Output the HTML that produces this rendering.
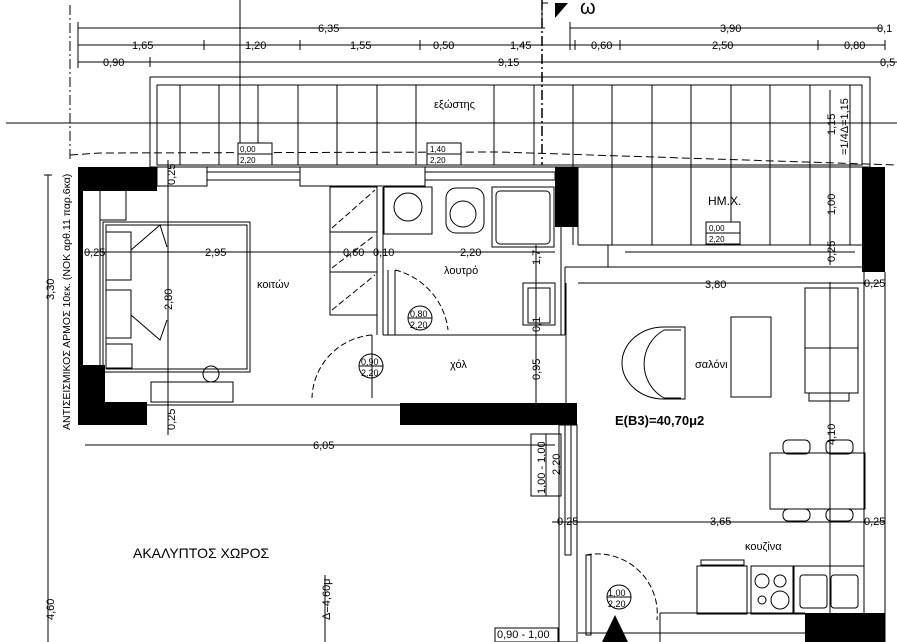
<!DOCTYPE html>
<html><head><meta charset="utf-8"><style>
html,body{margin:0;padding:0;background:#fff;}
svg{display:block;font-family:"Liberation Sans",sans-serif;}
text{fill:#000;}
</style></head><body>
<svg width="897" height="642" viewBox="0 0 897 642" xmlns="http://www.w3.org/2000/svg">
<g stroke="#000" stroke-width="1" fill="none">
<line x1="240" y1="0" x2="240" y2="150"/>
<line x1="6" y1="123" x2="897" y2="123"/>
<line x1="70" y1="5" x2="70" y2="160" stroke-dasharray="10,3,2,3"/>
<line x1="542" y1="0" x2="542" y2="165" stroke-dasharray="10,3,2,3" stroke-width="1.5"/>
<polyline points="542,22 542,3 548,3"/>
<line x1="78" y1="28" x2="545" y2="28"/><line x1="570" y1="28" x2="882" y2="28"/>
<line x1="78" y1="45" x2="885" y2="45"/>
<line x1="78" y1="62" x2="897" y2="62"/>
<g stroke-width="1">
<line x1="78" y1="22" x2="78" y2="68"/><line x1="570" y1="22" x2="570" y2="50"/>
<line x1="204" y1="40" x2="204" y2="50"/><line x1="300" y1="40" x2="300" y2="50"/>
<line x1="420" y1="40" x2="420" y2="50"/><line x1="575" y1="40" x2="575" y2="50"/>
<line x1="620" y1="40" x2="620" y2="50"/><line x1="818" y1="40" x2="818" y2="50"/>
<line x1="885" y1="40" x2="885" y2="50"/><line x1="150" y1="57" x2="150" y2="67"/>
</g>
<rect x="150" y="77" width="720" height="90"/>
<rect x="157" y="85" width="705" height="80"/>
<g>
<line x1="180" y1="85" x2="180" y2="165"/><line x1="219" y1="85" x2="219" y2="165"/>
<line x1="258" y1="85" x2="258" y2="165"/><line x1="298" y1="85" x2="298" y2="165"/>
<line x1="337" y1="85" x2="337" y2="165"/><line x1="377" y1="85" x2="377" y2="165"/>
<line x1="416" y1="85" x2="416" y2="165"/><line x1="494" y1="85" x2="494" y2="165"/>
<line x1="534" y1="85" x2="534" y2="165"/><line x1="573" y1="85" x2="573" y2="245"/>
<line x1="612" y1="85" x2="612" y2="245"/><line x1="652" y1="85" x2="652" y2="245"/>
<line x1="691" y1="85" x2="691" y2="245"/><line x1="731" y1="85" x2="731" y2="245"/>
<line x1="770" y1="85" x2="770" y2="245"/><line x1="810" y1="85" x2="810" y2="245"/>
<line x1="850" y1="85" x2="850" y2="245"/>
<line x1="578" y1="245" x2="862" y2="245"/>
<line x1="578" y1="167" x2="578" y2="245"/>
</g>
<polyline points="70,155 100,153 500,152 897,165" stroke-dasharray="8,4"/>
<rect x="238" y="143" width="34" height="22" fill="#fff"/><line x1="238" y1="154" x2="272" y2="154"/>
<rect x="427" y="143" width="34" height="22" fill="#fff"/><line x1="427" y1="154" x2="461" y2="154"/>
<rect x="706" y="222" width="34" height="22" fill="#fff"/><line x1="706" y1="233" x2="740" y2="233"/>
<rect x="157" y="167" width="50" height="19"/><rect x="207" y="172" width="93" height="8"/>
<rect x="300" y="167" width="125" height="19"/><rect x="425" y="172" width="130" height="8"/>
<rect x="608" y="245" width="260" height="22"/><line x1="625" y1="252" x2="855" y2="252"/>
<line x1="82" y1="190" x2="82" y2="410"/><line x1="100" y1="190" x2="100" y2="365"/>
<rect x="100" y="190" width="26" height="30"/>
<rect x="103" y="222" width="147" height="150"/>
<rect x="106" y="225" width="141" height="144"/>
<rect x="106" y="232" width="25" height="48"/><rect x="106" y="290" width="25" height="48"/>
<polyline points="131,250 160,225 167,247"/><polyline points="131,315 160,340 167,320"/>
<rect x="106" y="344" width="26" height="24"/>
<rect x="151" y="382" width="82" height="20"/><circle cx="211" cy="374" r="8"/>
<line x1="147" y1="405" x2="400" y2="405"/>
<rect x="330" y="187" width="47" height="128"/>
<line x1="330" y1="232" x2="377" y2="232"/><line x1="330" y1="272" x2="377" y2="272"/>
<line x1="332" y1="228" x2="375" y2="190" stroke-dasharray="6,3"/>
<line x1="332" y1="268" x2="375" y2="235" stroke-dasharray="6,3"/>
<line x1="332" y1="310" x2="375" y2="275" stroke-dasharray="6,3"/>
<line x1="377" y1="187" x2="377" y2="335"/><line x1="383" y1="187" x2="383" y2="335"/>
<rect x="384" y="187" width="48" height="47"/><circle cx="408" cy="207" r="14"/>
<rect x="446" y="188" width="38" height="45" rx="10"/><circle cx="463" cy="214" r="13"/>
<rect x="492" y="187" width="62" height="60"/><rect x="496" y="191" width="54" height="53" rx="4"/>
<line x1="388" y1="335" x2="388" y2="270"/><line x1="395" y1="270" x2="395" y2="335"/>
<path d="M395,270 A70,70 0 0 1 448,330" stroke-dasharray="6,3"/>
<rect x="523" y="283" width="32" height="42"/><rect x="528" y="288" width="22" height="35"/>
<line x1="383" y1="335" x2="565" y2="335"/>
<line x1="565" y1="267" x2="565" y2="335"/><line x1="565" y1="267" x2="625" y2="267"/>
<line x1="561" y1="227" x2="561" y2="335"/>
<path d="M372,335 A65,65 0 0 0 312,398" stroke-dasharray="6,3"/>
<line x1="372" y1="335" x2="372" y2="398"/>
<line x1="566" y1="283" x2="566" y2="403"/>
<line x1="864" y1="272" x2="864" y2="642"/><line x1="885" y1="272" x2="885" y2="642"/>
<path d="M681,330 L664,330 A39,39 0 0 0 664,398 L681,398"/>
<path d="M685,327 L664,327 A42,36 0 0 0 664,399 L685,399 Z"/>
<rect x="731" y="317" width="40" height="80"/>
<rect x="805" y="288" width="53" height="105"/><line x1="805" y1="348" x2="858" y2="348"/>
<rect x="809" y="393" width="40" height="8"/>
<line x1="830" y1="282" x2="830" y2="642"/>
<rect x="770" y="453" width="95" height="56"/>
<rect x="783" y="440" width="27" height="14" rx="5"/><rect x="826" y="440" width="27" height="14" rx="5"/>
<rect x="783" y="509" width="27" height="12" rx="5"/><rect x="826" y="509" width="27" height="12" rx="5"/>
<rect x="559" y="425" width="18" height="217"/><rect x="565" y="425" width="6" height="130"/>
<rect x="531" y="434" width="30" height="62"/><line x1="546" y1="434" x2="546" y2="496"/>
<line x1="85" y1="445" x2="555" y2="445"/>
<line x1="48" y1="175" x2="48" y2="642"/><line x1="44" y1="175" x2="52" y2="175"/>
<line x1="168" y1="160" x2="168" y2="195"/><line x1="168" y1="190" x2="168" y2="435"/>
<line x1="85" y1="252" x2="555" y2="252"/>
<line x1="536" y1="245" x2="536" y2="405"/>
<line x1="578" y1="283" x2="880" y2="283"/>
<line x1="552" y1="522" x2="885" y2="522"/>
<line x1="830" y1="90" x2="830" y2="265"/>
<line x1="325" y1="575" x2="325" y2="642"/>
<path d="M586,555 A60,60 0 0 1 657,620" stroke-dasharray="6,3"/>
<rect x="586" y="555" width="5" height="80"/>
<rect x="697" y="566" width="50" height="48"/><rect x="751" y="566" width="42" height="48"/>
<circle cx="762" cy="581" r="7"/><circle cx="780" cy="581" r="6"/><circle cx="762" cy="600" r="4"/><circle cx="780" cy="600" r="9"/>
<rect x="794" y="566" width="70" height="48"/><rect x="800" y="575" width="27" height="33" rx="3"/><rect x="831" y="575" width="27" height="33" rx="3"/>
<rect x="701" y="560" width="43" height="5"/>
<line x1="660" y1="613" x2="805" y2="613"/><line x1="660" y1="613" x2="660" y2="642"/>
<rect x="495" y="628" width="63" height="14" fill="#fff"/>
<line x1="578" y1="633" x2="805" y2="633"/>
<circle cx="371" cy="366" r="12"/><circle cx="420" cy="318" r="12"/><circle cx="619" cy="597" r="12"/>
<line x1="359" y1="366" x2="383" y2="366"/><line x1="408" y1="318" x2="432" y2="318"/><line x1="607" y1="597" x2="631" y2="597"/>
</g>
<g fill="#000">
<rect x="78" y="167" width="79" height="24"/>
<rect x="78" y="190" width="5" height="220"/>
<rect x="78" y="365" width="27" height="60"/><rect x="78" y="402" width="69" height="23"/>
<rect x="400" y="403" width="177" height="22"/>
<rect x="555" y="167" width="23" height="60"/>
<rect x="862" y="167" width="23" height="105"/>
<rect x="805" y="613" width="80" height="29"/>
<polygon points="602,642 615,615 628,642"/>
<polygon points="555,3 568,3 555,18"/>
</g>
<g font-size="11">
<text x="318" y="32">6,35</text><text x="720" y="32">3,90</text><text x="877" y="32">0,1</text>
<text x="132" y="49">1,65</text><text x="245" y="49">1,20</text><text x="350" y="49">1,55</text>
<text x="433" y="49">0,50</text><text x="510" y="49">1,45</text><text x="591" y="49">0,60</text>
<text x="712" y="49">2,50</text><text x="844" y="49">0,80</text>
<text x="103" y="66">0,90</text><text x="498" y="66">9,15</text><text x="880" y="66">0,5</text>
<text x="434" y="108">εξώστης</text>
<text x="708" y="205" font-size="12">HM.X.</text>
<text x="84" y="256">0,25</text><text x="205" y="256">2,95</text><text x="343" y="256">0,60</text><text x="373" y="256">0,10</text><text x="460" y="256">2,20</text>
<text x="444" y="274">λουτρό</text><text x="257" y="288">κοιτών</text>
<text x="450" y="368">χόλ</text><text x="695" y="368">σαλόνι</text>
<text x="705" y="288">3,80</text><text x="864" y="287">0,25</text>
<text x="313" y="449">6,05</text>
<text x="710" y="525">3,65</text><text x="557" y="525">0,25</text><text x="864" y="525">0,25</text>
<text x="745" y="550">κουζίνα</text>
<text x="497" y="638">0,90 - 1,00</text>
<text x="240" y="152" font-size="8">0,00</text><text x="240" y="163" font-size="8">2,20</text>
<text x="430" y="152" font-size="8">1,40</text><text x="430" y="163" font-size="8">2,20</text>
<text x="709" y="231" font-size="8">0,00</text><text x="709" y="242" font-size="8">2,20</text>
<text x="361" y="365" font-size="9">0,90</text><text x="361" y="376" font-size="9">2,20</text>
<text x="410" y="317" font-size="9">0,80</text><text x="410" y="328" font-size="9">2,20</text>
<text x="608" y="596" font-size="9">1,00</text><text x="608" y="607" font-size="9">2,20</text>
<text x="615" y="425" font-size="13" font-weight="bold">E(B3)=40,70μ2</text>
<text x="133" y="558" font-size="14">ΑΚΑΛΥΠΤΟΣ ΧΩΡΟΣ</text>
<text transform="translate(175,185) rotate(-90)">0,25</text>
<text transform="translate(175,430) rotate(-90)">0,25</text>
<text transform="translate(172,310) rotate(-90)">2,80</text>
<text transform="translate(540,380) rotate(-90)">0,95</text>
<text transform="translate(540,265) rotate(-90)">1,7</text>
<text transform="translate(540,332) rotate(-90)">0,1</text>
<text transform="translate(835,262) rotate(-90)">0,25</text>
<text transform="translate(835,215) rotate(-90)">1,00</text>
<text transform="translate(835,135) rotate(-90)">1,15</text>
<text transform="translate(848,155) rotate(-90)">=1/4Δ=1,15</text>
<text transform="translate(835,445) rotate(-90)">4,10</text>
<text transform="translate(54,300) rotate(-90)">3,30</text>
<text transform="translate(54,620) rotate(-90)">4,60</text>
<text transform="translate(330,620) rotate(-90)">Δ=4,60μ</text>
<text transform="translate(545,494) rotate(-90)">1,00 - 1,00</text>
<text transform="translate(560,475) rotate(-90)">2,20</text>
<text transform="translate(70,430) rotate(-90)" font-size="10.5">ΑΝΤΙΣΕΙΣΜΙΚΟΣ ΑΡΜΟΣ 10εκ. (ΝΟΚ αρθ.11 παρ.6κα)</text>
<text x="580" y="14" font-size="20">ω</text>
</g>
</svg>
</body></html>
